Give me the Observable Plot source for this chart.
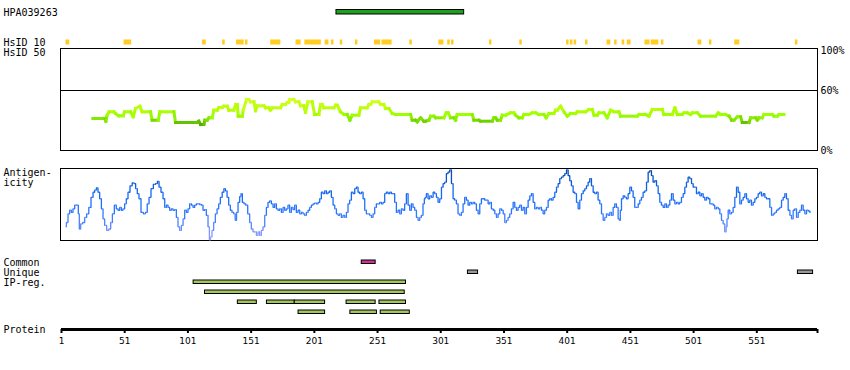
<!DOCTYPE html>
<html><head><meta charset="utf-8">
<script src="https://cdn.jsdelivr.net/npm/d3@7"></script>
<script src="https://cdn.jsdelivr.net/npm/@observablehq/plot@0.6"></script>
<style>
body{margin:0;background:#fff;}
#chart{width:850px;height:370px;overflow:hidden;background:#fff;}
#chart svg{display:block;}
</style></head><body><div id="chart"></div>
<script>
// ---------- data ----------
const proteinLength = 599;
const antibodyName = "HPA039263";
const antigenRange = [219, 319];
const hsid10Ranges = [[5,7],[51,56],[113,115],[129,130],[140,145],[147,148],[167,174],[187,190],[194,206],[210,212],[215,216],[222,223],[234,235],[249,253],[255,262],[277,278],[300,303],[307,308],[310,311],[340,341],[364,365],[401,402],[404,405],[407,408],[416,417],[433,435],[439,440],[445,446],[449,451],[463,466],[468,473],[476,477],[505,507],[514,515],[534,537],[582,583]];
const similarityTicks = [0, 60, 100];
const similarityThreshold = 60;
const similarityProfile = [[25.8,32],[35.3,32],[36.1,29.3],[37.1,35.3],[38.7,38.7],[42.4,38.7],[43.7,37],[46.4,34.7],[49.8,34.7],[50.8,38.7],[55.6,38.7],[57.7,33.7],[59.5,42],[63.0,44.3],[64.8,38.7],[71.4,38.7],[72.7,30.3],[77.5,30.3],[78.8,38.7],[89.9,38.7],[91.2,28],[108.3,28],[109.6,29.3],[111.0,26],[113.6,26],[114.4,30.3],[116.2,30.3],[117.6,32.7],[120.2,32.7],[121.5,40.3],[124.2,40.3],[125.5,43],[128.1,43],[129.4,44.3],[132.1,44.3],[133.4,40.3],[137.3,40.3],[138.7,46],[140.0,46],[140.8,34.3],[144.1,34.3],[144.7,40.3],[147.4,51],[149.2,51],[150.5,48.7],[153.2,48.7],[154.5,39.7],[155.8,44.7],[161.1,44.7],[162.4,42.7],[165.0,42.7],[166.3,40.3],[167.7,42.7],[174.3,42.7],[175.6,46],[178.2,46],[179.5,48],[180.8,48],[181.6,51],[184.8,51],[186.1,48.7],[188.8,48.7],[190.1,44.7],[192.7,44.7],[194.0,38],[195.9,48.7],[199.3,48.7],[201.2,36],[204.6,36],[205.9,46],[207.2,46],[208.5,42.7],[216.5,42.7],[217.8,45.3],[219.1,45.3],[221.7,38.7],[224.4,36],[227.0,36],[229.1,30.3],[231.0,35.3],[236.2,35.3],[237.5,42.7],[242.8,42.7],[244.1,46],[245.5,46],[246.8,48.7],[252.0,48.7],[253.4,46],[256.0,46],[257.3,42],[260.0,42],[262.6,37],[265.2,36],[277.1,36],[278.4,30.3],[281.1,30.3],[282.4,28.7],[285.0,32.7],[287.6,29.3],[289.0,29.3],[291.6,30.3],[293.0,34.3],[295.6,34.3],[296.9,32.7],[303.5,32.7],[305.3,37.7],[306.9,37.7],[308.8,32.7],[311.4,32.7],[312.7,30.3],[314.0,36],[325.9,36],[327.2,30.3],[331.2,30.3],[332.5,29.3],[341.7,29.3],[343.0,32.7],[344.4,32.7],[345.7,30.3],[348.3,30.3],[349.6,35.3],[352.3,35.3],[356.2,37.7],[358.9,37.7],[360.2,35.3],[362.8,32.7],[365.5,32.7],[366.8,36],[370.7,36],[373.4,37.7],[376.0,37.7],[378.6,36],[382.6,36],[384.4,32.7],[386.6,37],[390.5,37],[391.8,40.3],[393.1,40.3],[395.8,44.3],[398.4,38.7],[401.1,34.3],[403.7,37],[407.7,37],[409.0,38.7],[415.6,38.7],[418.2,41],[420.8,41],[422.2,35.3],[424.8,35.3],[426.1,37.7],[430.1,37.7],[432.7,32.7],[435.3,40.3],[438.0,38.7],[441.9,38.7],[443.3,34.3],[456.4,34.3],[457.8,36],[463.0,36],[465.7,34.3],[468.3,41],[476.2,41],[477.5,36],[484.1,36],[486.2,42.7],[488.1,36],[492.0,36],[493.4,37.7],[496.0,37.7],[498.6,36],[500.0,37.7],[503.9,37.7],[506.5,34.3],[518.4,34.3],[520.5,37.7],[522.4,36],[526.3,36],[529.0,34.3],[531.1,30.3],[532.9,30.3],[535.6,33.7],[538.2,33.7],[539.5,28],[544.8,28],[546.1,32.7],[550.1,32.7],[551.4,30.3],[552.7,32.7],[555.3,32.7],[556.6,36],[563.2,36],[564.6,34.3],[567.2,34.3],[568.5,36],[572.5,36]];
const antigenicityProfile = [[4.2,19],[5.5,25],[6.8,37],[8.1,42],[9.4,39],[10.8,44],[12.1,49],[13.9,49],[14.7,37],[15.5,16],[16.8,23],[18.7,25],[20.0,32],[21.8,37],[23.4,46],[25.3,60],[26.6,67],[27.9,70],[29.2,73],[30.5,67],[31.9,58],[33.2,44],[34.5,30],[35.8,21],[37.7,14],[39.2,16],[40.6,25],[41.9,37],[43.7,49],[45.0,44],[46.4,42],[47.7,46],[49.0,42],[50.3,44],[51.6,51],[52.9,58],[54.3,67],[56.1,76],[57.7,80],[59.0,79],[60.3,72],[61.6,65],[63.0,58],[64.8,39],[66.7,37],[68.0,39],[69.6,51],[70.9,60],[72.7,72],[74.6,78],[76.2,79],[77.5,82],[78.8,74],[80.6,67],[82.0,58],[83.3,46],[84.6,49],[85.9,46],[87.2,42],[88.5,44],[89.9,42],[91.2,43],[92.5,32],[93.8,19],[95.1,14],[96.5,21],[97.8,30],[99.1,42],[100.4,39],[101.7,44],[103.1,51],[104.4,49],[105.7,46],[107.0,49],[108.3,51],[109.6,51],[111.0,50],[112.3,49],[113.6,42],[114.9,43],[116.2,35],[117.6,19],[118.4,1],[119.4,5],[120.7,14],[122.0,25],[123.4,37],[124.7,44],[126.0,51],[127.3,60],[128.9,67],[130.0,72],[131.3,69],[132.6,60],[133.9,49],[135.2,42],[136.5,39],[137.9,37],[138.9,28],[140.0,39],[141.3,53],[142.6,61],[143.4,65],[144.7,53],[146.0,51],[147.4,49],[149.2,37],[150.5,25],[151.8,16],[153.2,12],[154.5,12],[155.8,7],[157.1,12],[158.4,7],[159.7,14],[161.1,19],[162.4,35],[163.7,46],[165.0,53],[166.3,55],[167.7,51],[169.0,46],[170.3,51],[171.6,44],[172.9,42],[174.3,44],[175.6,39],[176.9,46],[178.2,42],[179.5,44],[180.8,49],[182.2,39],[183.5,46],[184.8,43],[186.1,49],[187.4,39],[188.8,42],[190.1,37],[191.4,39],[192.7,37],[194.0,35],[195.4,39],[196.7,42],[198.0,46],[199.3,49],[200.6,51],[202.0,52],[203.3,51],[204.6,53],[205.9,58],[207.2,67],[208.5,65],[209.9,69],[211.2,65],[212.5,67],[213.8,69],[215.1,60],[216.5,49],[217.8,44],[219.1,37],[220.4,35],[221.7,37],[223.0,32],[224.4,35],[225.7,32],[227.0,39],[228.3,51],[229.6,56],[231.0,67],[232.3,65],[233.6,72],[234.9,74],[236.2,67],[237.5,65],[238.9,67],[240.2,58],[241.5,42],[242.8,37],[244.1,37],[245.5,35],[246.8,32],[248.1,37],[249.4,46],[250.7,51],[252.0,51],[253.4,53],[254.7,51],[256.0,53],[257.3,65],[258.6,67],[260.0,65],[261.3,67],[262.6,65],[263.9,65],[265.2,53],[266.6,39],[267.9,42],[269.2,37],[270.5,44],[271.8,42],[273.1,51],[274.5,65],[275.8,49],[277.1,42],[278.4,51],[279.7,46],[281.1,42],[282.4,32],[283.7,28],[285.0,32],[286.3,35],[287.6,51],[288.4,58],[289.0,60],[290.3,65],[291.6,58],[293.0,62],[294.3,60],[295.6,67],[296.9,65],[298.2,60],[299.5,53],[300.9,58],[302.2,74],[303.5,79],[304.8,81],[306.1,93],[307.4,95],[308.8,98],[310.1,79],[311.4,58],[312.7,56],[314.0,51],[315.3,37],[316.7,35],[318.0,39],[319.3,51],[320.6,60],[321.9,56],[323.3,49],[324.6,53],[325.9,51],[327.2,53],[328.5,51],[329.9,42],[331.2,37],[332.5,51],[333.8,58],[335.1,58],[336.5,56],[337.8,56],[339.1,51],[340.4,53],[341.7,44],[343.1,42],[344.4,37],[345.7,32],[347.0,37],[348.3,44],[349.7,42],[351.0,37],[352.3,25],[353.6,28],[354.9,32],[356.2,37],[357.6,44],[358.9,53],[360.2,46],[361.5,42],[362.8,46],[364.2,49],[365.5,42],[366.8,46],[368.1,37],[369.4,46],[370.8,56],[372.1,62],[373.4,65],[374.7,53],[376.0,44],[377.3,46],[378.7,44],[380.0,46],[381.3,42],[382.6,37],[383.9,42],[385.3,46],[386.6,56],[387.9,58],[389.2,56],[390.5,60],[391.9,67],[393.2,74],[394.5,79],[395.8,86],[397.1,88],[398.4,90],[399.8,93],[401.1,98],[402.4,90],[403.7,83],[405.0,76],[406.4,67],[407.7,65],[409.0,53],[410.3,44],[411.6,56],[413.0,65],[414.3,69],[415.6,72],[416.9,76],[418.2,81],[419.5,86],[420.9,76],[422.2,67],[423.5,65],[424.8,67],[426.1,56],[427.5,51],[428.8,37],[430.1,28],[431.4,32],[432.7,37],[434.0,35],[435.4,39],[436.7,35],[438.0,46],[439.3,51],[440.6,46],[442.0,30],[442.8,28],[443.3,42],[444.6,58],[445.9,62],[447.2,60],[448.5,58],[449.9,65],[451.2,74],[452.5,69],[453.8,60],[455.1,46],[456.5,46],[457.8,51],[459.1,56],[460.4,60],[461.7,67],[463.1,69],[464.4,81],[465.7,95],[467.0,97],[468.3,90],[469.6,81],[471.0,83],[472.3,76],[473.6,65],[474.9,53],[476.2,49],[477.6,46],[478.9,51],[480.2,46],[481.5,49],[482.8,56],[484.2,65],[485.5,56],[486.8,51],[488.1,53],[489.4,51],[490.7,53],[492.1,60],[493.4,65],[494.7,74],[496.0,81],[497.3,88],[498.7,86],[500.0,79],[501.3,74],[502.6,74],[503.9,65],[505.3,67],[506.6,62],[507.9,65],[509.2,60],[510.5,56],[511.8,60],[513.2,58],[514.5,51],[515.8,51],[517.1,49],[518.4,44],[519.8,46],[521.1,44],[522.4,37],[523.7,28],[525.0,23],[526.3,12],[527.1,19],[527.7,30],[529.0,42],[530.3,37],[531.6,39],[532.9,46],[534.3,60],[535.6,74],[536.9,67],[538.2,51],[539.5,56],[540.9,60],[542.2,65],[543.5,58],[544.8,53],[546.1,56],[547.4,49],[548.8,53],[550.1,58],[551.4,60],[552.7,65],[554.0,67],[555.4,62],[556.7,65],[558.0,60],[559.3,58],[560.6,58],[562.0,46],[563.3,35],[564.6,37],[565.9,39],[567.2,42],[568.5,44],[569.9,46],[571.2,56],[572.5,60],[573.8,65],[575.1,58],[576.5,42],[577.8,35],[579.1,30],[580.4,42],[581.7,44],[583.1,32],[584.4,39],[585.7,42],[587.0,49],[588.3,42],[589.7,37],[591.0,42],[592.3,41],[593.6,39]];
const trackRows = ["common","unique","ip1","ip2","ip3","ip4"];
const trackLabels = ["Common","Unique","IP-reg."];
const commonRanges = [[239,249]];
const uniqueRanges = [[323,330],[584,595]];
const ipRegRows = [
  [[106,273]],
  [[115,272]],
  [[141,155],[164,185],[186,209],[227,249],[253,273]],
  [[189,209],[230,250],[254,276]]
];
const proteinTicks = [1,51,101,151,201,251,301,351,401,451,501,551];

// ---------- layout helpers ----------
const mono = "'DejaVu Sans Mono', monospace";
const base = {
  width: 850, marginLeft: 60, marginRight: 33,
  style: {fontFamily: mono, fontSize: "10px", background: "#fff", color: "#000", overflow: "visible"}
};
const xScale = {domain: [1, proteinLength], range: [61, 817], axis: null};
const chart = document.getElementById("chart");

// 1. antibody + HsID 10
const p1 = Plot.plot({
  ...base, height: 47, marginTop: 0, marginBottom: 0,
  x: xScale,
  y: {type: "band", domain: ["antibody","hsid10"], range: [-3, 57], padding: 0, axis: null},
  marks: [
    Plot.barX([antigenRange], {x1: d => d[0] - 0.5, x2: d => d[1] + 0.5, y: () => "antibody",
      fill: "#1ea01e", stroke: "#000", strokeWidth: 1, insetTop: 12.5, insetBottom: 13}),
    Plot.barX(hsid10Ranges, {x1: d => d[0] - 0.5, x2: d => d[1] + 0.5, y: () => "hsid10",
      fill: "#ffcc1f", insetTop: 12.5, insetBottom: 12.5}),
    Plot.text([antibodyName, "HsID 10"], {y: ["antibody","hsid10"], text: d => d,
      frameAnchor: "left", dx: -57, textAnchor: "start", lineAnchor: "middle"})
  ]
});
chart.append(p1);

// 2. HsID 50 similarity
const simSeg = d3.pairs(similarityProfile).map(([a, b]) => ({r1: a[0], v1: a[1], r2: b[0], v2: b[1]}));
const p2 = Plot.plot({
  ...base, height: 113, marginTop: 1, marginBottom: 10,
  x: xScale,
  y: {domain: [0, 100], range: [103, 3], axis: null},
  color: {type: "linear", domain: [27, 31, 35, 40, 51], range: ["#5cb800", "#7ee000", "#99ff00", "#b3ff00", "#d6ff26"]},
  marks: [
    Plot.frame({stroke: "#000"}),
    Plot.ruleY([similarityThreshold], {stroke: "#000"}),
    Plot.link(simSeg, {x1: "r1", y1: "v1", x2: "r2", y2: "v2", stroke: d => (d.v1 + d.v2) / 2,
      strokeWidth: 3, strokeLinecap: "square"}),
    Plot.text(similarityTicks, {y: d => d, text: d => d + "%", frameAnchor: "right", dx: 3, textAnchor: "start"}),
    Plot.text(["HsID 50"], {frameAnchor: "top-left", dx: -57, dy: 4.7, textAnchor: "start", lineAnchor: "middle"})
  ]
});
chart.append(p2);

// 3. Antigenicity
const antSeg = d3.pairs(antigenicityProfile).map(([a, b]) => ({r1: a[0], v1: a[1], r2: b[0], v2: b[1]}));
const p3 = Plot.plot({
  ...base, height: 85, marginTop: 8, marginBottom: 5,
  x: xScale,
  y: {domain: [0, 100], axis: null},
  color: {type: "linear", domain: [0, 20, 40, 70, 100], range: ["#a8a4ff", "#5c88ff", "#2b76ff", "#1366f0", "#0044aa"]},
  marks: [
    Plot.frame({stroke: "#000"}),
    Plot.link(antSeg, {x1: "r1", y1: "v1", x2: "r2", y2: "v2", stroke: d => (d.v1 + d.v2) / 2,
      strokeWidth: 1.3, curve: "step"}),
    Plot.text(["Antigen-\nicity"], {frameAnchor: "top-left", dx: -57, dy: 9.6, textAnchor: "start",
      lineAnchor: "middle", lineHeight: 1})
  ]
});
chart.append(p3);

// 4. Common / Unique / IP-reg.
const trackBars = [
  ...commonRanges.map(([s, e]) => ({s, e, row: "common", kind: "common"})),
  ...uniqueRanges.map(([s, e]) => ({s, e, row: "unique", kind: "unique"})),
  ...ipRegRows.flatMap((row, i) => row.map(([s, e]) => ({s, e, row: "ip" + (i + 1), kind: "ip"})))
];
const fills = {common: "#cc3399", unique: "#999999", ip: "#a2c85c"};
const p4 = Plot.plot({
  ...base, height: 77, marginTop: 0, marginBottom: 0,
  x: xScale,
  y: {type: "band", domain: trackRows, range: [12, 72], padding: 0, axis: null},
  marks: [
    Plot.barX(trackBars, {x1: d => d.s - 0.5, x2: d => d.e + 0.5, y: "row", fill: d => fills[d.kind],
      stroke: "#000", strokeWidth: 1, insetTop: 3, insetBottom: 3.5}),
    Plot.text(trackLabels, {y: trackRows.slice(0, 3), text: d => d, frameAnchor: "left", dx: -57,
      textAnchor: "start", lineAnchor: "middle"})
  ]
});
chart.append(p4);

// 5. Protein axis
const p5 = Plot.plot({
  ...base, height: 48, marginTop: 0, marginBottom: 41,
  style: {...base.style, fontFamily: "'DejaVu Sans', sans-serif", fontSize: "9px"},
  x: xScale,
  y: {domain: [0, 1], axis: null},
  marks: [
    Plot.ruleY([0], {x1: 1, x2: proteinLength, stroke: "#000", strokeWidth: 3}),
    Plot.axisX([...proteinTicks, proteinLength], {anchor: "bottom", tickSize: 4, tickPadding: 4,
      strokeWidth: 2, stroke: "#000", tickFormat: d => proteinTicks.includes(d) ? String(d) : ""}),
    Plot.text(["Protein"], {frameAnchor: "bottom-left", dx: -57, textAnchor: "start", lineAnchor: "middle",
      fontFamily: mono, fontSize: 10})
  ]
});
chart.append(p5);
</script></body></html>
